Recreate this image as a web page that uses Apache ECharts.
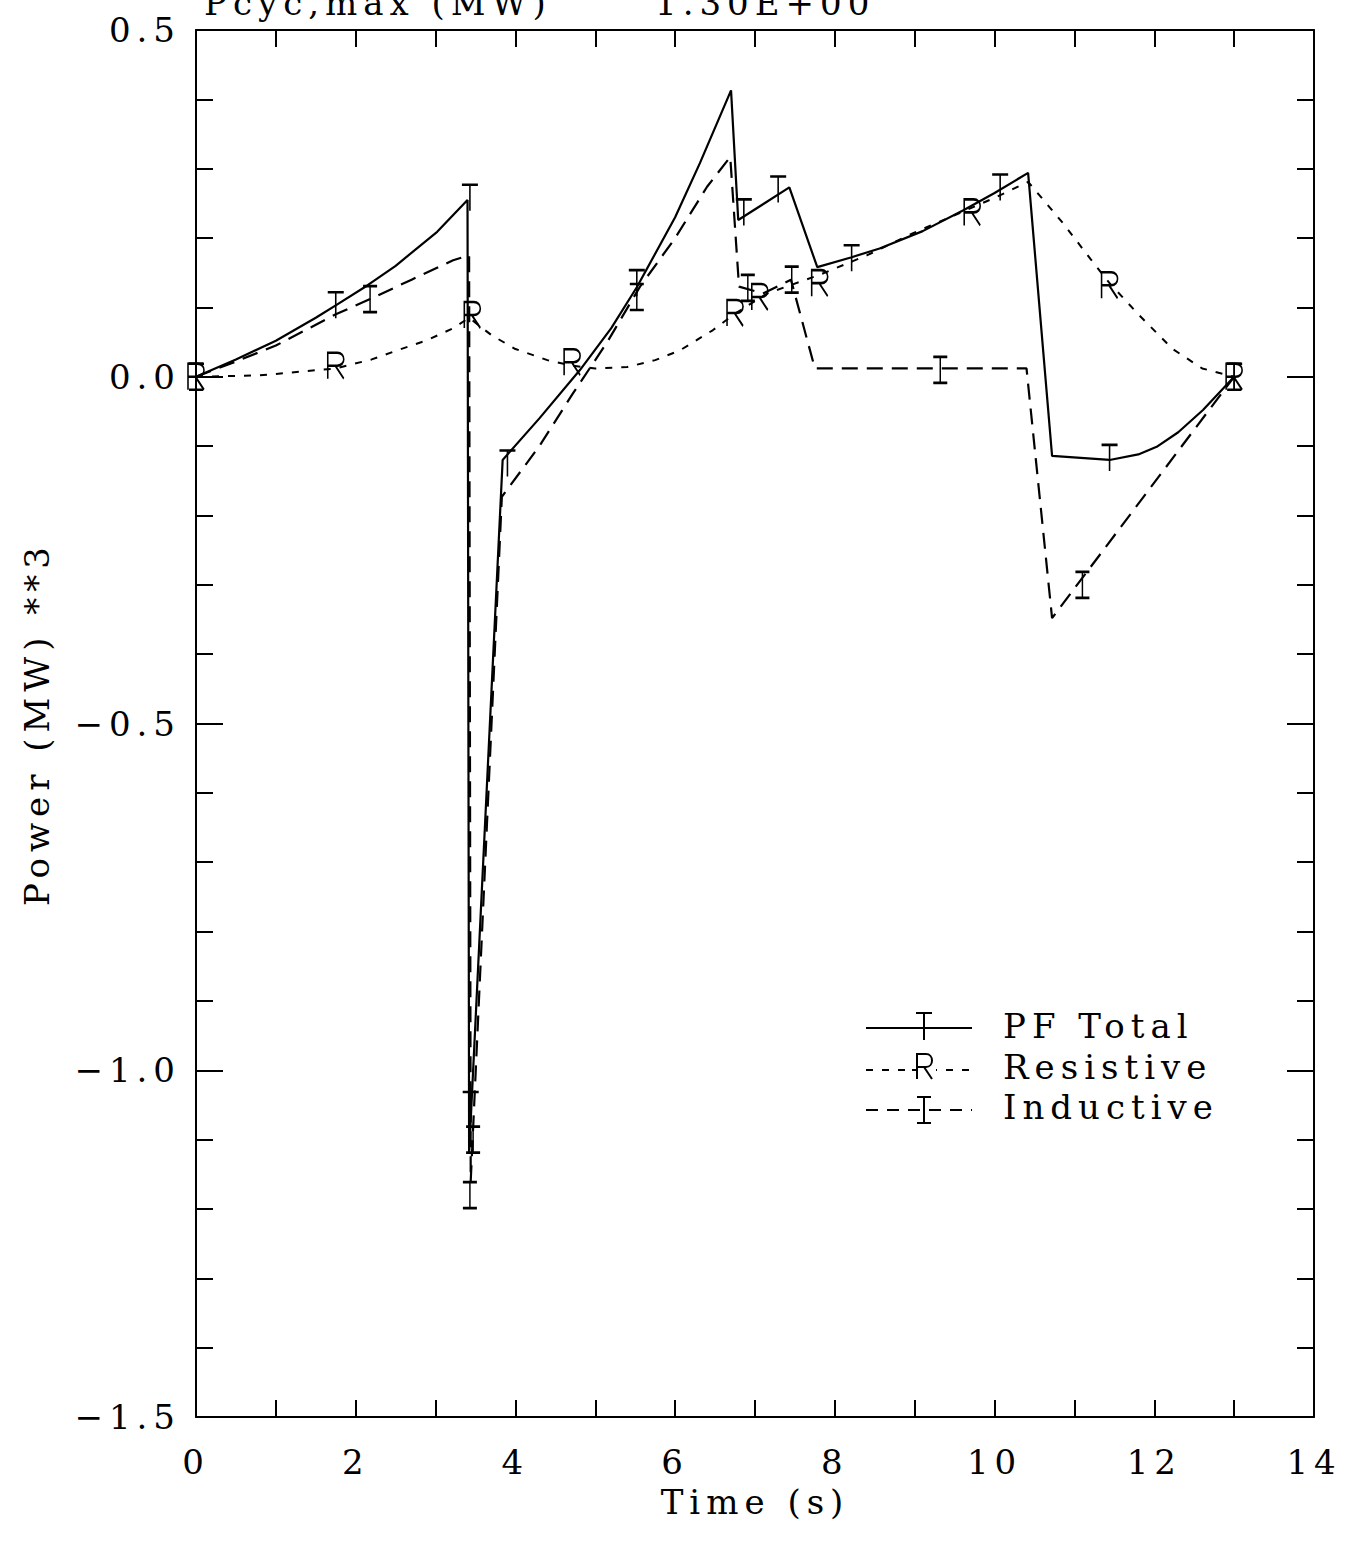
<!DOCTYPE html>
<html>
<head>
<meta charset="utf-8">
<script src="https://cdn.jsdelivr.net/npm/echarts@6/dist/echarts.min.js"></script>
<style>
html,body{margin:0;padding:0;background:#fff;}
#chart{width:1354px;height:1545px;}
#chart svg text{letter-spacing:6px;}
</style>
</head>
<body>
<div id="chart"></div>
<script>
// ---- axis settings ----
const xMin = 0, xMax = 14, xInterval = 2;
const yMin = -1.5, yMax = 0.5, yInterval = 0.5;

// ---- series values [time (s), power (MW)**3] ----
const pfTotal = [
  [0,0],[0.5,0.025],[1.0,0.052],[1.5,0.085],[1.75,0.103],[2.15,0.132],[2.5,0.16],
  [3.02,0.209],[3.4,0.255],[3.42,-1.12],[3.84,-0.12],[4.3,-0.06],[4.81,0.01],
  [5.2,0.07],[5.52,0.129],[6.0,0.23],[6.31,0.308],[6.70,0.413],[6.79,0.226],
  [7.43,0.273],[7.78,0.158],[8.2,0.172],[8.56,0.185],[9.1,0.21],[9.61,0.240],
  [10.0,0.265],[10.42,0.294],[10.72,-0.114],[11.44,-0.12],[11.8,-0.112],
  [12.03,-0.101],[12.3,-0.08],[12.61,-0.048],[13.0,0]
];
const resistive = [
  [0,0],[0.8,0.002],[1.75,0.012],[2.2,0.025],[2.52,0.038],[2.9,0.053],[3.22,0.07],
  [3.42,0.085],[3.7,0.06],[4.0,0.04],[4.4,0.024],[4.71,0.016],[5.0,0.012],[5.4,0.014],
  [5.75,0.024],[6.06,0.038],[6.47,0.067],[6.75,0.091],[7.15,0.12],[7.81,0.147],
  [8.4,0.175],[8.98,0.207],[9.6,0.238],[10.0,0.258],[10.42,0.281],[10.86,0.221],
  [11.2,0.17],[11.44,0.135],[11.8,0.09],[12.23,0.04],[12.6,0.012],[13.0,0]
];
const inductive = [
  [0,0],[0.5,0.022],[1.0,0.045],[1.75,0.09],[2.18,0.112],[2.7,0.14],[3.22,0.168],
  [3.42,0.175],[3.44,-1.16],[3.83,-0.173],[4.3,-0.1],[4.72,-0.024],[5.15,0.05],
  [5.56,0.13],[6.0,0.2],[6.40,0.274],[6.69,0.317],[6.8,0.13],[7.1,0.12],[7.45,0.14],
  [7.75,0.012],[10.4,0.012],[10.72,-0.348],[13.0,0]
];

// ---- marker positions along each curve ----
const markersT = [[0,0],[1.75,0.103],[3.43,0.258],[3.44,-1.05],[3.9,-0.125],[5.52,0.135],
  [6.86,0.237],[7.29,0.27],[8.21,0.171],[10.07,0.273],[11.44,-0.117],[13.0,0]];
const markersR = [[0,0],[1.75,0.016],[3.46,0.089],[4.71,0.021],[6.75,0.092],[7.06,0.115],
  [7.81,0.135],[9.72,0.237],[11.44,0.132],[13.0,0]];
const markersI = [[0,0],[2.18,0.112],[3.47,-1.10],[3.43,-1.18],[5.52,0.115],[6.91,0.128],
  [7.46,0.14],[9.32,0.01],[11.1,-0.30],[13.0,0]];

// ---- texts ----
const seriesNames = ['PF Total','Resistive','Inductive'];
const titleLeft = 'Pcyc,max (MW)';
const titleRight = '1.30E+00';
const xName = 'Time (s)';
const yName = 'Power (MW) **3';

const FONT = '"DejaVu Serif", "Liberation Serif", serif';
const FS = 34;
const T_PATH = 'path://M0,0 L16,0 M8,0 L8,26';
const I_PATH = 'path://M0,0 L14,0 M7,0 L7,26 M0,26 L14,26';
const R_PATH = 'path://M0,26 L0,0 L9,0 C17,0 17,13 9,13 L0,13 M7,13 L15,26';

const markerStyle = {color:'transparent', borderColor:'#000', borderWidth:2, opacity:1};
const axisLineStyle = {color:'#000', width:2};
const blk = {stroke:'#000', lineWidth:2};

function fmtY(v){ return (v < 0 ? '\u2212' : '') + Math.abs(v).toFixed(1); }

const chart = echarts.init(document.getElementById('chart'), null, {renderer:'svg'});
chart.setOption({
  backgroundColor:'#fff',
  animation:false,
  grid:{left:196, right:40, top:30, bottom:128},
  xAxis:[{
    type:'value', min:xMin, max:xMax, interval:xInterval, position:'bottom',
    name:xName, nameLocation:'middle', nameGap:68,
    nameTextStyle:{fontFamily:FONT, fontSize:FS, color:'#000'},
    axisLine:{show:true, onZero:false, lineStyle:axisLineStyle},
    axisTick:{show:true, inside:true, length:17, lineStyle:axisLineStyle},
    minorTick:{show:true, splitNumber:2, length:17, lineStyle:axisLineStyle},
    axisLabel:{fontFamily:FONT, fontSize:FS, color:'#000', margin:28},
    splitLine:{show:false}
  },{
    type:'value', min:xMin, max:xMax, interval:xInterval, position:'top',
    axisLine:{show:true, onZero:false, lineStyle:axisLineStyle},
    axisTick:{show:true, inside:true, length:17, lineStyle:axisLineStyle},
    minorTick:{show:true, splitNumber:2, length:17, lineStyle:axisLineStyle},
    axisLabel:{show:false}, splitLine:{show:false}
  }],
  yAxis:[{
    type:'value', min:yMin, max:yMax, interval:yInterval, position:'left',
    name:yName, nameLocation:'middle', nameGap:142,
    nameTextStyle:{fontFamily:FONT, fontSize:FS, color:'#000'},
    axisLine:{show:true, onZero:false, lineStyle:axisLineStyle},
    axisTick:{show:true, inside:true, length:27, lineStyle:axisLineStyle},
    minorTick:{show:true, splitNumber:5, length:17, lineStyle:axisLineStyle},
    axisLabel:{fontFamily:FONT, fontSize:FS, color:'#000', margin:15, formatter:fmtY},
    splitLine:{show:false}
  },{
    type:'value', min:yMin, max:yMax, interval:yInterval, position:'right',
    axisLine:{show:true, onZero:false, lineStyle:axisLineStyle},
    axisTick:{show:true, inside:true, length:27, lineStyle:axisLineStyle},
    minorTick:{show:true, splitNumber:5, length:17, lineStyle:axisLineStyle},
    axisLabel:{show:false}, splitLine:{show:false}
  }],
  series:[
    {name:seriesNames[0], type:'line', data:pfTotal, symbol:'none', z:3,
      lineStyle:{color:'#000', width:2.2, type:'solid'}},
    {name:seriesNames[1], type:'line', data:resistive, symbol:'none', z:2,
      lineStyle:{color:'#000', width:2, type:[7,9]}},
    {name:seriesNames[2], type:'line', data:inductive, symbol:'none', z:2,
      lineStyle:{color:'#000', width:2.2, type:[16,9]}},
    {name:seriesNames[0]+' markers', type:'scatter', data:markersT, symbol:T_PATH,
      symbolSize:[16,26], itemStyle:markerStyle, z:4},
    {name:seriesNames[1]+' markers', type:'scatter', data:markersR, symbol:R_PATH,
      symbolSize:[16,26], itemStyle:markerStyle, z:4},
    {name:seriesNames[2]+' markers', type:'scatter', data:markersI, symbol:I_PATH,
      symbolSize:[14,26], itemStyle:markerStyle, z:4}
  ],
  graphic:[
    // cut-off header
    {type:'text', x:204, y:3, z:10, style:{text:titleLeft, font:FS+'px '+FONT, fill:'#000', verticalAlign:'middle'}},
    {type:'text', x:655, y:3, z:10, style:{text:titleRight, font:FS+'px '+FONT, fill:'#000', verticalAlign:'middle'}},
    // legend row 1
    {type:'line', shape:{x1:866,y1:1028,x2:972,y2:1028}, style:blk},
    {type:'line', shape:{x1:916,y1:1013,x2:932,y2:1013}, style:blk},
    {type:'line', shape:{x1:924,y1:1013,x2:924,y2:1040}, style:blk},
    {type:'text', x:1003, y:1026, style:{text:seriesNames[0], font:FS+'px '+FONT, fill:'#000', verticalAlign:'middle'}},
    // legend row 2
    {type:'line', shape:{x1:866,y1:1070,x2:972,y2:1070}, style:{stroke:'#000', lineWidth:2, lineDash:[7,9]}},
    {type:'rect', shape:{x:914,y:1052,width:22,height:30}, style:{fill:'#fff'}},
    {type:'polyline', shape:{points:[[917,1079],[917,1054],[926,1054]]}, style:{stroke:'#000', lineWidth:2, fill:null}},
    {type:'bezierCurve', shape:{x1:926,y1:1054,cpx1:934,cpy1:1054,cpx2:934,cpy2:1067,x2:926,y2:1067}, style:{stroke:'#000', lineWidth:2, fill:null}},
    {type:'line', shape:{x1:926,y1:1067,x2:917,y2:1067}, style:blk},
    {type:'line', shape:{x1:924,y1:1067,x2:932,y2:1079}, style:blk},
    {type:'line', shape:{x1:912,y1:1070,x2:917,y2:1070}, style:blk},
    {type:'text', x:1003, y:1067, style:{text:seriesNames[1], font:FS+'px '+FONT, fill:'#000', verticalAlign:'middle'}},
    // legend row 3
    {type:'line', shape:{x1:866,y1:1110,x2:972,y2:1110}, style:{stroke:'#000', lineWidth:2, lineDash:[12,9]}},
    {type:'line', shape:{x1:917,y1:1097,x2:931,y2:1097}, style:blk},
    {type:'line', shape:{x1:924,y1:1097,x2:924,y2:1123}, style:blk},
    {type:'line', shape:{x1:917,y1:1123,x2:931,y2:1123}, style:blk},
    {type:'text', x:1003, y:1107, style:{text:seriesNames[2], font:FS+'px '+FONT, fill:'#000', verticalAlign:'middle'}}
  ]
});
</script>
</body>
</html>
